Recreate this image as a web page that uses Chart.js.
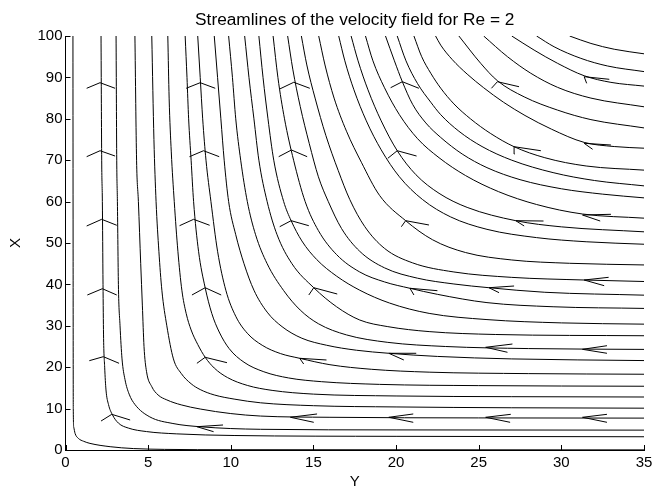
<!DOCTYPE html>
<html>
<head>
<meta charset="utf-8">
<script src="https://cdn.jsdelivr.net/npm/chart.js@4.4.1/dist/chart.umd.min.js"></script>
<style>
  html, body { margin: 0; padding: 0; background: #fff; }
  #wrap { width: 655px; height: 488px; }
</style>
</head>
<body>
<div id="wrap"><canvas id="chart" width="655" height="488"></canvas></div>
<script>
// Streamlines, each as [Y, X] points from the wall region out to the free stream
const sl01 = [[0.45,100],[0.46,50],[0.47,10],[0.5,5.5],[0.58,4],[0.78,2.8],[1.1,2.1],[1.48,1.6],[2.7,0.8],[4.1,0.35],[6,0.15],[10,0.07],[35,0.03]];
const sl02 = [[2.15,100],[2.19,70],[2.23,60],[2.27,40],[2.3,28],[2.37,20],[2.45,14.5],[2.6,11],[2.84,8.5],[3.2,6.5],[3.8,5.3],[4.9,4.45],[6.7,3.9],[10.2,3.5],[20,3.3],[35,3.2]];
const sl03 = [[3.06,100],[3.1,70],[3.14,60],[3.2,40],[3.3,30],[3.42,22],[3.6,17],[3.85,13.5],[4.2,11],[5.1,8.0],[6.5,6.4],[8.2,5.6],[11.8,5.0],[20,4.85],[35,4.8]];
const sl04 = [[4.2,100],[4.3,70],[4.41,60],[4.55,45],[4.65,35],[4.75,25],[4.9,19],[5.22,15.3],[5.6,13.3],[6.13,12.1],[7,10.9],[8.15,9.9],[10,8.8],[11.8,8.2],[16,7.9],[25,7.75],[35,7.7]];
const sl05 = [[5.22,100],[5.35,75],[5.48,60],[5.65,48],[5.83,38.6],[6.13,30],[6.53,22],[7.0,18.5],[7.6,16],[8.15,14.6],[9,13.3],[10.2,12.3],[11.8,11.4],[15,10.7],[20,10.4],[27,10.2],[35,10.1]];
const sl06 = [[6.19,100],[6.27,85],[6.4,72],[6.58,60],[6.8,48],[7.04,38.6],[7.3,33],[7.6,29],[8.0,25.5],[8.45,22.4],[9.0,19.8],[9.8,17.5],[11,15.6],[12.5,14.4],[15,13.5],[20,13.05],[27,12.88],[35,12.8]];
const sl07 = [[7.24,100],[7.35,90],[7.45,80],[7.6,70],[7.75,60],[8.05,48],[8.45,39.2],[8.85,33],[9.3,28.5],[9.9,24.5],[10.8,21.2],[12,18.9],[13.5,17.4],[15.5,16.5],[19,15.85],[25,15.55],[35,15.4]];
const sl08 = [[8.0,100],[8.15,90],[8.3,80],[8.5,70],[8.8,60],[9.2,48],[9.7,38.6],[10.3,32.3],[11.0,28.2],[11.9,25.3],[13,23.3],[14.17,22.15],[16,20.6],[18.5,19.5],[22,18.8],[28,18.45],[35,18.3]];
const sl09 = [[9.0,100],[9.2,90],[9.4,80],[9.6,70],[9.87,60],[10.3,52],[10.8,45],[11.4,38.6],[12.2,33.3],[13.1,29.8],[14.3,27.0],[15.8,25.3],[17.6,24.1],[19.56,23.36],[22.5,22.6],[27,22.0],[35,21.6]];
const sl10 = [[9.87,100],[10.1,90],[10.3,80],[10.6,70],[11.0,60],[11.5,52],[12.2,45],[13.2,38.5],[14.2,33.8],[15.3,30.5],[17.0,27.8],[19.5,26.0],[23,25.0],[28,24.5],[35,24.3]];
const sl11 = [[10.84,100],[11.1,90],[11.4,80],[11.7,70],[12.2,60],[12.8,52],[13.7,45],[15.02,39.2],[16.4,34.6],[17.8,31.4],[19.5,29.8],[22,28.6],[26,27.9],[35,27.6]];
const sl12 = [[11.7,100],[11.95,90],[12.25,80],[12.6,70],[13.2,60],[13.65,55.4],[14.3,50.5],[15.2,46],[16.4,42],[17.8,38.6],[19.6,35.5],[22,33],[25.5,31.5],[30,30.7],[35,30.4]];
const sl13 = [[12.56,100],[12.85,90],[13.25,80],[13.8,70],[14.5,60],[15.3,53],[16.4,47.2],[17.8,43],[19.3,40.6],[20.84,39.06],[22.5,37.6],[25.5,35.6],[29.5,34.6],[35,34.2]];
const sl14 = [[13.44,100],[13.75,92],[14.2,83],[14.75,74],[15.3,66],[15.9,60],[16.7,53.5],[17.8,48],[19.3,44],[21.3,41.5],[23.5,40.1],[25.62,39.2],[29,38.1],[35,37.4]];
const sl15 = [[14.27,100],[14.6,93],[15.1,85],[15.75,76],[16.5,67.5],[17.2,60.5],[18.1,54],[19.3,48.7],[21,45.2],[23.5,43],[27,41.7],[31.38,41.06],[35,40.7]];
const sl16 = [[15.32,100],[15.7,93],[16.25,85],[17.0,77],[17.9,69.5],[19.0,61.5],[20.58,55.39],[22.2,50.8],[24.2,47.7],[27,45.9],[30.5,45.1],[35,44.7]];
const sl17 = [[16.53,100],[16.9,94],[17.45,87],[18.2,79.5],[19.1,72.5],[20.2,66],[21.6,60.5],[23.3,56.3],[25.5,53.3],[28.5,51.3],[31.5,50.3],[35,49.7]];
const sl18 = [[17.28,100],[17.7,94],[18.3,87],[19.1,79.5],[20.07,72.29],[21.2,66.5],[22.6,62],[24.3,58.6],[27.24,55.39],[30,53.9],[35,52.7]];
const sl19 = [[18.15,100],[18.6,94],[19.3,87.5],[20.2,81],[21.3,75.2],[22.6,70.6],[24.2,66.3],[26.2,62.4],[28.5,59.3],[31.28,57.0],[35,56.0]];
const sl20 = [[19.36,100],[19.9,94],[20.38,88.96],[21.0,83.5],[21.8,79],[22.7,75.5],[24,71.5],[25.5,68.2],[27.5,65.3],[30,63.1],[32.5,61.8],[35,60.9]];
const sl21 = [[20.07,100],[20.6,94],[21.3,88.5],[22.1,84],[22.7,81],[23.8,77],[25.2,73.3],[27,70],[29.5,67],[32,65.1],[35,63.8]];
const sl22 = [[21.08,100],[21.55,95],[22.1,91],[22.7,87.4],[23.5,83.6],[24.5,80],[25.7,76.5],[27.14,73.26],[29,70.6],[31.5,68.6],[35,67.6]];
const sl23 = [[22.39,100],[22.7,97.8],[23.4,94.3],[24.3,90.8],[25.3,87.5],[26.5,84],[27.8,80.8],[29.4,77.5],[31.38,74.3],[33.2,73.3],[35,72.9]];
const sl24 = [[23.8,100],[25.12,93.4],[26.13,89.2],[27.75,85.3],[29.77,82.1],[31.79,79.8],[35,77.8]];
const sl25 = [[25.3,100],[26.74,95.0],[28.15,91.0],[29.77,87.6],[31.79,85.0],[35,82.9]];
const sl26 = [[27.0,100],[28.35,96.6],[29.77,93.4],[31.38,90.4],[33.0,88.8],[35,87.9]];
const sl27 = [[28.5,100],[29.56,97.4],[31.18,94.6],[32.8,92.75],[35,91.4]];
const sl28 = [[30.5,100],[31.79,98.2],[33.2,96.8],[35,95.7]];

// Direction arrows: tip and the two barb ends, in [Y, X]
const arrowTips = [
  [2.09,88.72],[2.09,72.29],[2.19,55.72],[2.23,38.96],[2.29,22.54],[2.8,8.62],
  [8.15,88.72],[8.35,72.29],[7.75,55.72],[8.45,39.2],[8.45,22.39],[7.95,5.63],
  [13.81,88.82],[13.67,72.46],[13.65,55.39],[15.02,39.2],[14.17,22.15],[13.61,7.9],
  [20.38,88.96],[20.07,72.29],[20.58,55.39],[20.84,39.06],[19.56,23.36],[19.56,7.9],
  [26.13,88.96],[27.14,73.26],[27.24,55.39],[25.62,39.2],[25.42,24.81],[25.42,7.9],
  [31.38,90.17],[31.38,74.08],[31.28,56.76],[31.38,41.06],[31.28,24.32],[31.28,7.9]
];
const arrowBarbA = [
  [1.28,87.37],[1.28,70.85],[1.28,54.11],[1.32,37.44],[1.44,21.57],[2.15,7.0],
  [7.3,87.37],[7.5,70.85],[6.9,54.18],[7.65,37.44],[7.95,20.94],[9.53,6.04],
  [12.96,87.2],[12.9,70.85],[12.96,53.94],[14.72,37.44],[14.41,20.77],[15.22,8.7],
  [19.67,87.51],[19.5,70.46],[20.32,53.94],[21.08,37.44],[20.47,21.74],[21.04,8.7],
  [25.77,87.37],[27.18,71.5],[27.75,54.11],[26.23,38.0],[27.04,25.6],[26.94,8.62],
  [31.53,88.57],[31.89,72.63],[32.35,55.31],[32.59,39.69],[32.76,25.19],[32.76,8.62]
];
const arrowBarbB = [
  [3.0,87.37],[3.0,71.01],[3.1,54.28],[3.1,37.44],[3.24,20.94],[3.91,7.25],
  [9.06,87.37],[9.3,70.85],[8.72,54.28],[9.42,37.44],[9.77,21.09],[8.96,4.42],
  [14.78,87.37],[14.62,70.85],[14.72,54.18],[16.44,37.68],[15.79,21.74],[15.02,6.69],
  [21.38,87.37],[21.24,71.01],[21.99,54.35],[22.5,38.48],[21.22,23.36],[21.04,6.69],
  [27.44,87.75],[28.76,72.29],[28.92,55.31],[27.14,39.61],[26.74,23.6],[26.9,6.69],
  [32.9,89.54],[33.0,73.67],[33.0,56.93],[32.86,41.71],[32.76,23.36],[32.76,6.69]
];

const xTickStep = 5;
const yTickStep = 10;
const titleText = 'Streamlines of the velocity field for Re = 2';
const xAxisLabel = 'Y';
const yAxisLabel = 'X';

const streamlines = [sl01, sl02, sl03, sl04, sl05, sl06, sl07, sl08, sl09, sl10, sl11, sl12, sl13, sl14,
                     sl15, sl16, sl17, sl18, sl19, sl20, sl21, sl22, sl23, sl24, sl25, sl26, sl27, sl28];

const toPoints = arr => arr.map(p => ({ x: p[0], y: p[1] }));

const datasets = streamlines.map(line => ({
  data: toPoints(line),
  showLine: true,
  borderColor: '#000',
  borderWidth: 1,
  pointRadius: 0,
  fill: false,
  cubicInterpolationMode: 'monotone'
}));

arrowTips.forEach((tip, i) => {
  datasets.push({
    data: toPoints([arrowBarbA[i], tip, arrowBarbB[i]]),
    showLine: true,
    borderColor: '#000',
    borderWidth: 1,
    pointRadius: 0,
    fill: false,
    tension: 0
  });
});

// MATLAB-style tick marks pointing into the plot area
const inwardTicks = {
  id: 'inwardTicks',
  afterDraw(chart) {
    const { ctx, chartArea: a, scales: { x, y } } = chart;
    ctx.save();
    ctx.strokeStyle = '#000';
    ctx.lineWidth = 1;
    ctx.beginPath();
    x.ticks.forEach(t => {
      const px = Math.round(x.getPixelForValue(t.value)) + 0.5;
      ctx.moveTo(px, a.bottom);
      ctx.lineTo(px, a.bottom - 5);
    });
    y.ticks.forEach(t => {
      const py = Math.round(y.getPixelForValue(t.value)) + 0.5;
      ctx.moveTo(a.left, py);
      ctx.lineTo(a.left + 5, py);
    });
    ctx.stroke();
    ctx.restore();
  }
};

Chart.defaults.font.family = '"Liberation Sans", Arial, Helvetica, sans-serif';
Chart.defaults.color = '#000';

new Chart(document.getElementById('chart'), {
  type: 'scatter',
  data: { datasets },
  options: {
    responsive: false,
    animation: false,
    devicePixelRatio: 1,
    events: [],
    layout: { padding: { top: 0, right: 11, bottom: 0, left: 0 } },
    plugins: {
      legend: { display: false },
      tooltip: { enabled: false },
      title: {
        display: true,
        fullSize: false,
        text: titleText,
        color: '#000',
        font: { size: 17.3, weight: 'normal' },
        padding: { top: 10.1, bottom: 5.14 }
      }
    },
    scales: {
      x: {
        type: 'linear',
        min: 0,
        max: 35,
        ticks: { stepSize: xTickStep, font: { size: 15 }, color: '#000', padding: 4, maxRotation: 0 },
        grid: { display: false, drawTicks: false },
        border: { display: true, color: '#000', width: 1 },
        title: { display: true, text: xAxisLabel, color: '#000', font: { size: 15 }, padding: { top: 0, bottom: -3 } },
        afterFit(s) { s.height = 38; s.paddingLeft = 0; s.paddingRight = 0; }
      },
      y: {
        type: 'linear',
        min: 0,
        max: 100,
        ticks: { stepSize: yTickStep, font: { size: 15 }, color: '#000', padding: 3 },
        grid: { display: false, drawTicks: false },
        border: { display: true, color: '#000', width: 1 },
        title: { display: true, text: yAxisLabel, color: '#000', font: { size: 15 }, padding: { top: 7, bottom: 0 } },
        afterFit(s) { s.width = 65.5; s.paddingTop = 0; s.paddingBottom = 0; }
      }
    }
  },
  plugins: [inwardTicks]
});
</script>
</body>
</html>
